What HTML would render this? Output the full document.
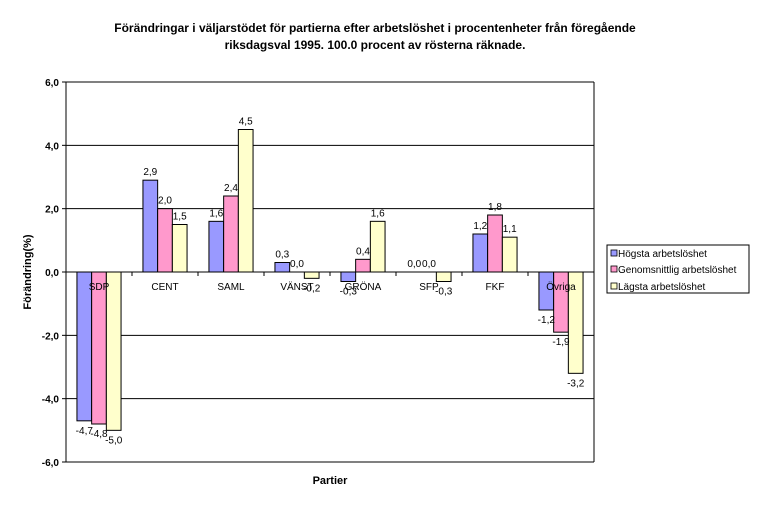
<!DOCTYPE html>
<html><head><meta charset="utf-8"><style>
body{margin:0;background:#fff;font-family:"Liberation Sans",Arial,sans-serif}
svg text{font-family:"Liberation Sans",Arial,sans-serif}
</style></head><body>
<svg id="chart" width="760" height="509" xmlns="http://www.w3.org/2000/svg">
<text x="375" y="32" text-anchor="middle" font-size="12" font-weight="bold">Förändringar i väljarstödet för partierna efter arbetslöshet i procentenheter från föregående</text>
<text x="375" y="49" text-anchor="middle" font-size="12" font-weight="bold">riksdagsval 1995. 100.0 procent av rösterna räknade.</text>
<text transform="translate(31,272) rotate(-90)" text-anchor="middle" font-size="11" font-weight="bold">Förändring(%)</text>
<text x="330" y="484" text-anchor="middle" font-size="11" font-weight="bold">Partier</text>
<g id="grid"></g><g id="bars"></g><g id="labels"></g>
<g>
<rect x="607" y="245" width="142" height="48" fill="#fff" stroke="#000"/>
<rect x="611" y="250" width="6" height="6" fill="#9999FF" stroke="#000" stroke-width="0.8"/>
<text x="618" y="257" font-size="10">Högsta arbetslöshet</text>
<rect x="611" y="266" width="6" height="6" fill="#FF99CC" stroke="#000" stroke-width="0.8"/>
<text x="618" y="273" font-size="10">Genomsnittlig arbetslöshet</text>
<rect x="611" y="283" width="6" height="6" fill="#FFFFCC" stroke="#000" stroke-width="0.8"/>
<text x="618" y="290" font-size="10">Lägsta arbetslöshet</text>
</g>
</svg>
<script>
const categories=["SDP","CENT","SAML","VÄNST","GRÖNA","SFP","FKF","Övriga"];
const hogsta=[-4.7,2.9,1.6,0.3,-0.3,0.0,1.2,-1.2];
const genomsnitt=[-4.8,2.0,2.4,0.0,0.4,0.0,1.8,-1.9];
const lagsta=[-5.0,1.5,4.5,-0.2,1.6,-0.3,1.1,-3.2];
const yTicks=[-6,-4,-2,0,2,4,6];
const NS="http://www.w3.org/2000/svg";
const L=66,R=594,T=82,B=462,yMin=-6,yMax=6;
const y=v=>B-(v-yMin)/(yMax-yMin)*(B-T);
const cw=(R-L)/categories.length;
const bw=14.7;
function mk(tag,attrs,parent){const e=document.createElementNS(NS,tag);for(const k in attrs)e.setAttribute(k,attrs[k]);parent.appendChild(e);return e;}
const grid=document.getElementById('grid'),bars=document.getElementById('bars'),labels=document.getElementById('labels');
const fmt=v=>v.toFixed(1).replace('.',',');
yTicks.forEach(t=>{
 const l=mk('line',{x1:L,x2:R,y1:y(t),y2:y(t),stroke:'#000','stroke-width':1},grid);
 
 
 mk('line',{x1:L-4,x2:L,y1:y(t),y2:y(t),stroke:'#000'},grid);
 const tx=mk('text',{x:L-7,y:y(t)+4,'text-anchor':'end','font-size':10,'font-weight':'bold'},grid);
 tx.textContent=fmt(t);
 
 
});
mk('line',{x1:L,x2:L,y1:T,y2:B,stroke:'#000'},grid);
mk('line',{x1:R,x2:R,y1:T,y2:B,stroke:'#000'},grid);
categories.forEach((c,i)=>{
 mk('line',{x1:L+cw*i,x2:L+cw*i,y1:y(0),y2:y(0)+4,stroke:'#000'},grid);
});
const series=[[hogsta,'#9999FF'],[genomsnitt,'#FF99CC'],[lagsta,'#FFFFCC']];
categories.forEach((c,i)=>{
 const x0=L+cw*i+(cw-3*bw)/2;
 series.forEach(([vals,col],s)=>{
  const v=vals[i],bx=x0+s*bw;
  const top=Math.min(y(v),y(0)),h=Math.abs(y(v)-y(0));
  if(h>0){
   const r=mk('rect',{x:bx,y:top,width:bw,height:h,fill:col,stroke:'#000','stroke-width':1},bars);
   
   
  }
  const ly=v>=0?y(v)-5:y(v)+13;
  const t=mk('text',{x:bx+bw/2,y:ly,'text-anchor':'middle','font-size':10},labels);
  t.textContent=fmt(v);
  
  
 });
 const cl=mk('text',{x:L+cw*i+cw/2,y:y(0)+18,'text-anchor':'middle','font-size':10},labels);
 cl.textContent=c;
 
 
});
</script>
</body></html>
